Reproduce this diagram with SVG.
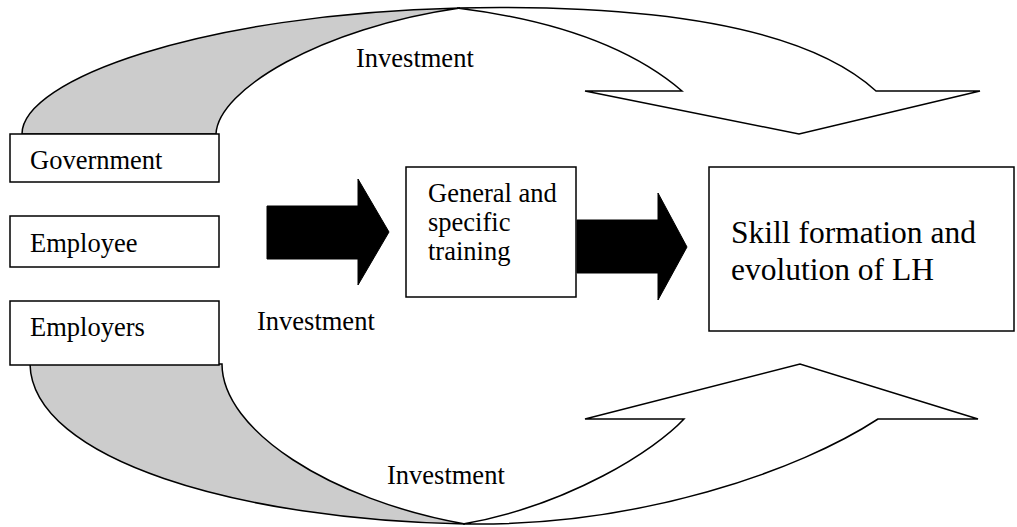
<svg xmlns="http://www.w3.org/2000/svg" width="1017" height="527" viewBox="0 0 1017 527">
<style>
.ln{stroke:#000;stroke-width:1.5;stroke-linejoin:miter}
.grey{fill:#cccccc}
.white{fill:#fff}
.box{fill:#fff;stroke:#000;stroke-width:1.5}
.blk{fill:#000;stroke:#000;stroke-width:1}
.t{font-family:"Liberation Serif","Times New Roman",serif;font-size:26.5px;fill:#000}
.tb{font-family:"Liberation Serif","Times New Roman",serif;font-size:31.5px;fill:#000}
</style>
<rect width="1017" height="527" fill="#fff"/>
<g id="connectors">
  <g id="top-curved-arrow">
    <path class="ln grey" d="M22,134 C22,80 200,14 460,8 C320,28 218,90 216,134 Z"/>
    <path class="ln white" d="M457,8 C700,3 820,40 876,91 L980,91 L799,134 L585,91 L682,91 C640,55 570,22 457,8 Z"/>
  </g>
  <g id="bottom-curved-arrow">
    <path class="ln grey" d="M30,364 C32,460 240,520 465,524 C330,500 222,430 222,364 Z"/>
    <path class="ln white" d="M463,524 C640,527 800,470 878,419 L978,419 L800,364 L585,419 L684,419 C655,450 570,505 463,524 Z"/>
  </g>
  <path id="arrow-investment" class="blk" d="M267,206 L358,206 L358,179 L389,232 L358,285 L358,259 L267,259 Z"/>
  <path id="arrow-training" class="blk" d="M577,220 L658,220 L658,193 L687,247 L658,300 L658,273 L577,273 Z"/>
</g>
<g id="government">
  <rect class="box" x="10" y="134" width="209" height="48"/>
  <text class="t" x="30" y="169">Government</text>
</g>
<g id="employee">
  <rect class="box" x="10" y="216" width="209" height="51"/>
  <text class="t" x="30" y="252">Employee</text>
</g>
<g id="employers">
  <rect class="box" x="10" y="301" width="209" height="64"/>
  <text class="t" x="30" y="336">Employers</text>
</g>
<g id="training">
  <rect class="box" x="406" y="167" width="170" height="130"/>
  <text class="t" x="428" y="202">General and</text>
  <text class="t" x="428" y="231">specific</text>
  <text class="t" x="428" y="260">training</text>
</g>
<g id="skill">
  <rect class="box" x="709" y="167" width="305" height="164"/>
  <text class="tb" x="731" y="243">Skill formation and</text>
  <text class="tb" x="731" y="280">evolution of LH</text>
</g>
<g id="labels">
  <text class="t" x="356" y="67">Investment</text>
  <text class="t" x="257" y="330">Investment</text>
  <text class="t" x="387" y="484">Investment</text>
</g>
</svg>
